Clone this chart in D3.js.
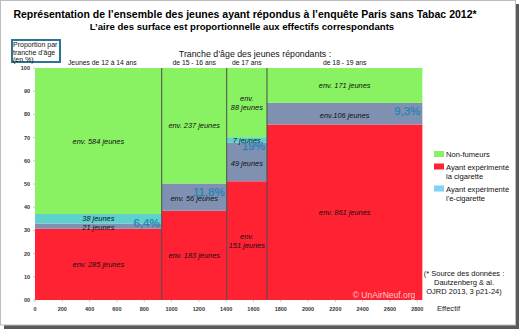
<!DOCTYPE html>
<html>
<head>
<meta charset="utf-8">
<script src="https://cdn.jsdelivr.net/npm/d3@7"></script>
<style>
  html, body { margin: 0; padding: 0; background: #ffffff; }
  svg { display: block; font-family: "Liberation Sans", Arial, sans-serif; }
</style>
</head>
<body>
<svg id="chart" width="520" height="330"></svg>
<script>
// Age groups (columns) and head-counts per group
const ageGroups = ["Jeunes de 12 à 14 ans", "de 15 - 16 ans", "de 17 ans", "de 18 - 19 ans"];
const cigarette = [285, 183, 151, 861];   // tried cigarette only
const cigAndEcig = [21, 56, 49, 106];     // tried cigarette and e-cigarette
const ecigOnly = [38, 0, 7, 0];           // tried e-cigarette only
const nonSmokers = [584, 237, 88, 171];   // never smoked

// Prefixes used in the segment captions ("\n" = line break)
const cigPrefix = ["env. ", "env. ", "env.\n", "env. "];
const bothPrefix = ["", "env. ", "", "env."];
const ecigPrefix = ["", "", "", ""];
const nonPrefix = ["env. ", "env. ", "env.\n", "env. "];

// Axis ticks
const yTicks = [0, 10, 20, 30, 40, 50, 60, 70, 80, 90, 100];
const yTickLabels = ["00", "10", "20", "30", "40", "50", "60", "70", "80", "90", "100"];
const xTicks = [0, 200, 400, 600, 800, 1000, 1200, 1400, 1600, 1800, 2000, 2200, 2400, 2600, 2800];

const legendLabels = [["Non-fumeurs"], ["Ayant expérimenté", "la cigarette"], ["Ayant expérimenté", "l'e-cigarette"]];
const sourceLines = ["(* Source des données :", "Dautzenberg & al.", "OJRD 2013, 3 p21-24)"];

const colors = {
  cigarette: "#ff2233",
  both: "#8090b0",
  ecig: "#5ed1cd",
  non: "#89f262",
  legendEcig: "#80d3f2",
  pct: "#2484b8"
};

const svg = d3.select("#chart");

// Framed panel with a drop shadow
svg.append("rect").attr("x", 4).attr("y", 4).attr("width", 515).attr("height", 325).attr("fill", "#5a5a5a");
svg.append("rect").attr("x", 0.5).attr("y", 0.5).attr("width", 515).attr("height", 324.5)
  .attr("fill", "#ffffff").attr("stroke", "#bdbdbd").attr("stroke-width", 1);

// Build the table of columns
const rows = ageGroups.map((g, i) => {
  const total = cigarette[i] + cigAndEcig[i] + ecigOnly[i] + nonSmokers[i];
  return {
    group: g, i, total,
    cigarette: cigarette[i] / total * 100,
    both: cigAndEcig[i] / total * 100,
    ecig: ecigOnly[i] / total * 100,
    non: nonSmokers[i] / total * 100
  };
});
let acc = 0;
rows.forEach(r => { r.x0 = acc; acc += r.total; r.x1 = acc; });

const x = d3.scaleLinear().domain([0, 2800]).range([35, 417.3]);
const y = d3.scaleLinear().domain([0, 100]).range([300, 68]);

const keys = ["cigarette", "both", "ecig", "non"];
const counts = { cigarette, both: cigAndEcig, ecig: ecigOnly, non: nonSmokers };
const prefixes = { cigarette: cigPrefix, both: bothPrefix, ecig: ecigPrefix, non: nonPrefix };
const captionShift = { cigarette: 0, both: 1.5, ecig: 0, non: 0 };
const stack = d3.stack().keys(keys)(rows);

// Mosaic cells
const cells = svg.append("g");
stack.forEach(layer => {
  cells.selectAll(null).data(layer).join("rect")
    .attr("x", d => x(d.data.x0))
    .attr("width", d => x(d.data.x1) - x(d.data.x0))
    .attr("y", d => y(d[1]))
    .attr("height", d => y(d[0]) - y(d[1]))
    .attr("fill", colors[layer.key]);
});

// Column separators
svg.append("g").selectAll("line").data(rows.slice(0, -1)).join("line")
  .attr("x1", d => x(d.x1)).attr("x2", d => x(d.x1))
  .attr("y1", y(100)).attr("y2", y(0))
  .attr("stroke", "#4a4a4a").attr("stroke-width", 1);

// Segment captions
const capG = svg.append("g").attr("font-size", 7.4).attr("font-style", "italic").attr("fill", "#111");
stack.forEach(layer => {
  layer.forEach(d => {
    const i = d.data.i;
    const n = counts[layer.key][i];
    if (!n) return;
    const lines = (prefixes[layer.key][i] + n + " jeunes").split("\n");
    const cx = (x(d.data.x0) + x(d.data.x1)) / 2;
    const cy = (y(d[0]) + y(d[1])) / 2 + captionShift[layer.key];
    const t = capG.append("text").attr("text-anchor", "middle");
    lines.forEach((ln, k) => {
      t.append("tspan").attr("x", cx)
        .attr("y", cy + 2.7 + (k - (lines.length - 1) / 2) * 8.5)
        .text(ln);
    });
  });
});

// Share having tried the e-cigarette, per column
const fmtPct = v => d3.format(".1f")(v).replace(".", ",").replace(/,0$/, "") + "%";
svg.append("g").selectAll("text").data(rows).join("text")
  .attr("x", d => x(d.x1) - 2)
  .attr("y", d => y(d.cigarette + d.both + d.ecig) + 12.5)
  .attr("text-anchor", "end")
  .attr("font-size", 11.5)
  .attr("fill", colors.pct)
  .attr("stroke", colors.pct).attr("stroke-width", 0.25)
  .text(d => fmtPct(d.both + d.ecig));

// Y axis
const yAxis = svg.append("g");
yAxis.selectAll("line").data(yTicks).join("line")
  .attr("x1", x(0) - 2).attr("x2", x(0)).attr("y1", d => y(d)).attr("y2", d => y(d))
  .attr("stroke", "#c8c8c8");
yAxis.selectAll("text").data(yTicks).join("text")
  .attr("x", 30).attr("y", d => y(d) + 2)
  .attr("text-anchor", "end").attr("font-size", 5.5).attr("font-weight", "bold").attr("fill", "#333")
  .text((d, i) => yTickLabels[i]);

// X axis
const xAxis = svg.append("g");
xAxis.selectAll("line").data(xTicks).join("line")
  .attr("x1", d => x(d)).attr("x2", d => x(d)).attr("y1", y(0)).attr("y2", y(0) + 2)
  .attr("stroke", "#c8c8c8");
xAxis.selectAll("text").data(xTicks).join("text")
  .attr("x", d => x(d)).attr("y", 311)
  .attr("text-anchor", "middle").attr("font-size", 5.5).attr("font-weight", "bold").attr("fill", "#333")
  .text(d => d);
svg.append("text").attr("x", 437).attr("y", 311).attr("font-size", 7.6).attr("fill", "#222").text("Effectif");

// Column headers
svg.append("g").selectAll("text").data(rows).join("text")
  .attr("x", d => (x(d.x0) + x(d.x1)) / 2 + (d.i === 0 ? 4 : 0)).attr("y", 65)
  .attr("text-anchor", "middle").attr("font-size", 6.8).attr("fill", "#111")
  .text(d => d.group);

// Titles
svg.append("text").attr("x", 245).attr("y", 18).attr("text-anchor", "middle")
  .attr("font-size", 10.5).attr("font-weight", "bold").attr("fill", "#000")
  .text("Représentation de l’ensemble des jeunes ayant répondus à l’enquête Paris sans Tabac 2012*");
svg.append("text").attr("x", 242).attr("y", 29.5).attr("text-anchor", "middle")
  .attr("font-size", 9.6).attr("font-weight", "bold").attr("fill", "#000")
  .text("L’aire des surface est proportionnelle aux effectifs correspondants");
svg.append("text").attr("x", 255).attr("y", 56.5).attr("text-anchor", "middle")
  .attr("font-size", 8.8).attr("fill", "#111")
  .text("Tranche d’âge des jeunes répondants :");

// Y axis caption box
svg.append("rect").attr("x", 12).attr("y", 40).attr("width", 48).attr("height", 22)
  .attr("fill", "#fff").attr("stroke", "#2a7494").attr("stroke-width", 2);
const yCap = svg.append("text").attr("font-size", 7).attr("fill", "#111");
["Proportion par", "tranche d'âge", "(en %)"].forEach((ln, k) => {
  yCap.append("tspan").attr("x", 13).attr("y", 47 + k * 7.6).text(ln);
});

// Legend
const legend = svg.append("g").attr("font-size", 7.6).attr("fill", "#111");
const legendColors = [colors.non, colors.cigarette, colors.legendEcig];
const legendTops = [151, 163.5, 185.5];
legendLabels.forEach((lines, k) => {
  legend.append("rect").attr("x", 434).attr("y", legendTops[k]).attr("width", 10).attr("height", 6)
    .attr("fill", legendColors[k]);
  lines.forEach((ln, j) => {
    legend.append("text").attr("x", 446).attr("y", legendTops[k] + 6 + j * 9).text(ln);
  });
});

// Source note
const src = svg.append("g").attr("font-size", 7.5).attr("fill", "#111").attr("text-anchor", "middle");
sourceLines.forEach((ln, k) => {
  src.append("text").attr("x", 464).attr("y", 276 + k * 8.8).text(ln);
});

// Watermark
svg.append("text").attr("x", 384).attr("y", 298).attr("text-anchor", "middle")
  .attr("font-size", 8.5).attr("fill", "#ffffff").attr("fill-opacity", 0.75)
  .text("© UnAirNeuf.org");
</script>
</body>
</html>
